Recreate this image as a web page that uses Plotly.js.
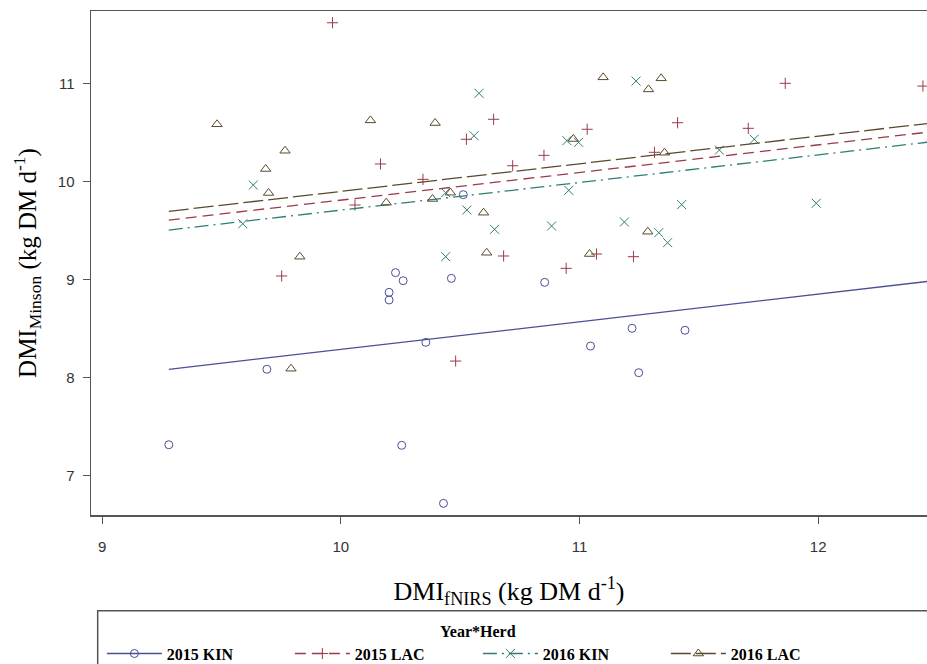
<!DOCTYPE html>
<html>
<head>
<meta charset="utf-8">
<script src="https://cdn.plot.ly/plotly-3.0.1.min.js"></script>
<style>html,body{margin:0;padding:0;background:#fff;}#chart{width:927px;height:664px;}</style>
</head>
<body>
<div id="chart"></div>
<script>
// ---- data ----
var groupNames = ['2015 KIN', '2015 LAC', '2016 KIN', '2016 LAC'];

var kin15X = [9.279, 9.690, 10.229, 10.261, 10.202, 10.202, 10.463, 10.513, 10.854, 10.356, 11.046, 11.220, 11.248, 11.442, 10.255, 10.430];
var kin15Y = [7.314, 8.084, 9.070, 8.988, 8.869, 8.791, 9.012, 9.866, 8.971, 8.359, 8.321, 8.502, 8.049, 8.482, 7.308, 6.716];

var lac15X = [9.965, 10.059, 10.640, 10.526, 10.166, 11.032, 10.851, 10.720, 10.344, 10.682, 11.071, 11.226, 11.862, 12.439, 11.411, 11.707, 11.314, 9.752, 10.481, 10.944];
var lac15Y = [11.62, 9.760, 10.635, 10.431, 10.179, 10.533, 10.267, 10.161, 10.022, 9.240, 9.260, 9.233, 11.002, 10.974, 10.600, 10.543, 10.298, 9.036, 8.168, 9.114];

var kin16X = [9.633, 9.589, 10.579, 11.237, 10.558, 10.947, 10.996, 10.439, 10.528, 10.644, 10.955, 10.883, 11.188, 10.439, 11.732, 11.586, 11.428, 11.992, 11.332, 11.369];
var kin16Y = [9.964, 9.569, 10.900, 11.025, 10.467, 10.417, 10.400, 9.886, 9.709, 9.512, 9.910, 9.546, 9.587, 9.233, 10.431, 10.321, 9.764, 9.778, 9.478, 9.376];

var lac16X = [9.481, 9.766, 9.685, 9.697, 9.828, 10.124, 10.395, 11.099, 10.974, 10.190, 10.384, 10.459, 10.598, 10.611, 11.042, 11.289, 11.342, 11.356, 11.286, 9.791];
var lac16Y = [10.584, 10.314, 10.128, 9.883, 9.233, 10.624, 10.597, 11.063, 10.434, 9.784, 9.822, 9.886, 9.682, 9.273, 9.260, 10.940, 11.053, 10.294, 9.488, 8.090];

// fitted lines (common slope, group intercepts)
var fitSlope = 0.282;
var fitIntercepts = [5.467, 6.990, 6.888, 7.079];

var xTicks = [9, 10, 11, 12];
var yTicks = [7, 8, 9, 10, 11];

// ---- styles ----
var colors = ['#4B4F96', '#9C3A48', '#2F7E76', '#5A4A2A'];
var symbols = ['circle-open', 'cross-thin-open', 'x-thin-open', 'triangle-up-open'];
var dashes = ['solid', '11px,6px', '14px,5px,2px,5px', '20px,5px'];
var sizes = [8, 8, 9, 9];

var xs = [kin15X, lac15X, kin16X, lac16X];
var ys = [kin15Y, lac15Y, kin16Y, lac16Y];

var allX = [].concat(kin15X, lac15X, kin16X, lac16X);
var xMin = Math.min.apply(null, allX);
var xMax = 12.6;

var traces = [];
for (var g = 0; g < 4; g++) {
  traces.push({
    type: 'scatter', mode: 'markers', x: xs[g], y: ys[g],
    name: groupNames[g], legendgroup: groupNames[g], showlegend: false,
    marker: {symbol: symbols[g], size: sizes[g], color: colors[g], line: {color: colors[g], width: 1}},
    hoverinfo: 'x+y'
  });
  traces.push({
    type: 'scatter', mode: 'lines', x: [xMin, xMax],
    y: [fitIntercepts[g] + fitSlope * xMin, fitIntercepts[g] + fitSlope * xMax],
    legendgroup: groupNames[g], showlegend: false,
    line: {color: colors[g], width: 1.3, dash: dashes[g]}, hoverinfo: 'skip'
  });
}
for (var g = 0; g < 4; g++) {
  traces.push({
    type: 'scatter', mode: 'lines+markers', x: [null], y: [null],
    name: groupNames[g], legendgroup: groupNames[g], showlegend: true,
    marker: {symbol: symbols[g], size: sizes[g], color: colors[g], line: {color: colors[g], width: 1}},
    line: {color: colors[g], width: 1.3, dash: dashes[g]}
  });
}

var serif = '"Liberation Serif", "Times New Roman", Times, serif';
var tickFont = {family: '"Liberation Sans", Arial, sans-serif', size: 15, color: '#333'};

var layout = {
  width: 927, height: 664,
  margin: {l: 91, r: 0, t: 11, b: 149, pad: 0, autoexpand: false},
  paper_bgcolor: '#fff', plot_bgcolor: '#fff',
  showlegend: true,
  xaxis: {
    range: [8.953, 12.456], tickvals: xTicks, ticktext: xTicks.map(String),
    showgrid: false, zeroline: false,
    showline: true, linecolor: '#555', linewidth: 1.5, mirror: true,
    ticks: 'outside', ticklen: 7, tickwidth: 1.2, tickcolor: '#555',
    tickfont: tickFont, ticklabelstandoff: 10,
    title: {text: 'DMI<sub>fNIRS</sub> (kg DM d<sup>-1</sup>)', font: {family: serif, size: 26, color: '#000'}, standoff: 28}
  },
  yaxis: {
    range: [6.597, 11.74], tickvals: yTicks, ticktext: yTicks.map(String),
    showgrid: false, zeroline: false,
    showline: true, linecolor: '#555', linewidth: 1.5, mirror: false,
    ticks: 'outside', ticklen: 7, tickwidth: 1.2, tickcolor: '#555',
    tickfont: tickFont, ticklabelstandoff: 5,
    title: {text: 'DMI<sub>Minson</sub> (kg DM d<sup>-1</sup>)', font: {family: serif, size: 25, color: '#000'}, standoff: 14}
  },
  legend: {
    orientation: 'h', x: 0.013, xanchor: 'left', y: -0.2, yanchor: 'top',
    title: {text: 'Year*Herd', side: 'top center', font: {family: serif, size: 16, color: '#000', weight: 'bold'}},
    font: {family: serif, size: 16, color: '#000', weight: 'bold'},
    itemwidth: 55, entrywidth: 118, entrywidthmode: 'pixels',
    bgcolor: 'rgba(0,0,0,0)', borderwidth: 0, tracegroupgap: 0
  },
  shapes: [{
    type: 'rect', xref: 'paper', yref: 'paper',
    x0: 0.008, x1: 1.2, y0: -0.19, y1: -0.33,
    line: {color: '#555', width: 1.5}, fillcolor: 'rgba(0,0,0,0)'
  }]
};

Plotly.newPlot('chart', traces, layout, {displayModeBar: false, staticPlot: true});
</script>
</body>
</html>
